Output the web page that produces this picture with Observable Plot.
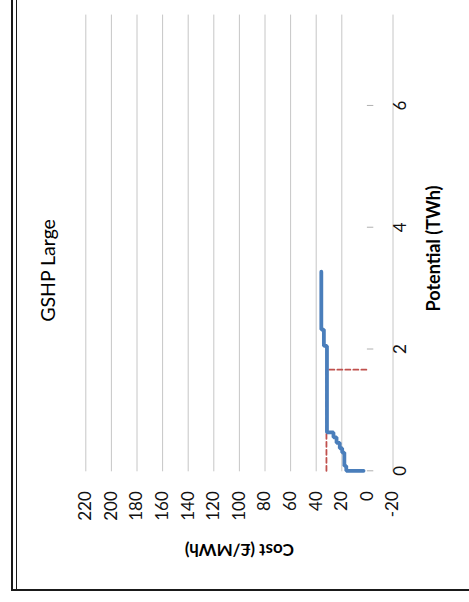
<!DOCTYPE html>
<html>
<head>
<meta charset="utf-8">
<script src="https://cdn.jsdelivr.net/npm/d3@7"></script>
<script src="https://cdn.jsdelivr.net/npm/@observablehq/plot@0.6"></script>
<style>
  html, body { margin: 0; padding: 0; background: #fff; }
  #wrap { position: relative; width: 469px; height: 602px; overflow: hidden; background: #fff; }
  #chart svg { position: absolute; left: 0; top: 0; transform-origin: 0 0; transform: translate(0px, 602px) rotate(-90deg); }
  .b { position: absolute; background: #1a1a1a; }
</style>
</head>
<body>
<div id="wrap">
  <div id="chart"></div>
  <div class="b" style="left:11px; top:0; width:2px; height:591px;"></div>
  <div class="b" style="left:16px; top:0; width:1px; height:589px;"></div>
  <div class="b" style="left:11px; top:589px; width:458px; height:2px;"></div>
</div>
<script>
// Data
const titleText = "GSHP Large";
const xLabel = "Potential (TWh)";
const yLabel = "Cost (£/MWh)";

// Supply curve (step)
const potential = [0, 0, 0.08, 0.30, 0.37, 0.46, 0.55, 0.63, 2.05, 2.32, 3.27];
const cost      = [3, 16.5, 18, 19.7, 21.6, 24.1, 26.5, 31.6, 34, 36, 36];

// Red dashed reference line
const refPotential = [0, 1.66, 1.66];
const refCost      = [32, 32, 0];

// Axes
const xTicks = [0, 2, 4, 6];
const yTicks = [-20, 0, 20, 40, 60, 80, 100, 120, 140, 160, 180, 200, 220];
const gridCosts = [-20, 20, 40, 60, 80, 100, 120, 140, 160, 180, 200, 220];

const curve = potential.map((p, i) => ({p, c: cost[i]}));
const ref = refPotential.map((p, i) => ({p, c: refCost[i]}));

const W = 602, H = 469;
const chart = Plot.plot({
  width: W,
  height: H,
  marginLeft: 130.7,
  marginRight: 14.6,
  marginTop: 85.3,
  marginBottom: 76.5,
  x: {domain: [0, 7.5]},
  y: {domain: [-20, 220]},
  style: {fontFamily: "Lato, 'Liberation Sans', sans-serif", fontSize: "17px", color: "#000", background: "#fff", maxWidth: "none", width: W + "px", height: H + "px"},
  marks: [
    Plot.ruleY(gridCosts, {stroke: "#c6c6c6", strokeWidth: 1}),
    Plot.ruleX(xTicks, {x: d => d, y1: 0, y2: -5, stroke: "#b0b0b0", strokeWidth: 1}),
    Plot.axisY({ticks: yTicks, tickSize: 0, tickPadding: 20.4, tickFormat: d => String(d), label: null, fontSize: 17, fill: "#111"}),
    Plot.axisX({ticks: xTicks, tickSize: 0, tickPadding: 1, tickFormat: d => String(d), label: null, fontSize: 17, fill: "#111"}),
    Plot.line(ref, {x: "p", y: "c", stroke: "#c0504d", strokeWidth: 1.8, strokeDasharray: "5,3"}),
    Plot.line(curve, {x: "p", y: "c", curve: "step-after", stroke: "#4a7ebb", strokeWidth: 3.8, strokeLinejoin: "miter"}),
    Plot.text([titleText], {frameAnchor: "top", textAnchor: "middle", lineAnchor: "middle", dy: -37.3, dx: -28, fontSize: 19.5, fill: "#000"}),
    Plot.text([xLabel], {frameAnchor: "bottom", textAnchor: "middle", lineAnchor: "middle", dy: 41.5, dx: -6, fontSize: 18, fontWeight: "bold", fill: "#000"}),
    Plot.text([yLabel], {frameAnchor: "left", textAnchor: "middle", lineAnchor: "middle", rotate: -90, dx: -78.7, fontSize: 17, fontWeight: "bold", fill: "#000"})
  ]
});
chart.style.maxWidth = "none";
document.getElementById("chart").appendChild(chart);
</script>
</body>
</html>
